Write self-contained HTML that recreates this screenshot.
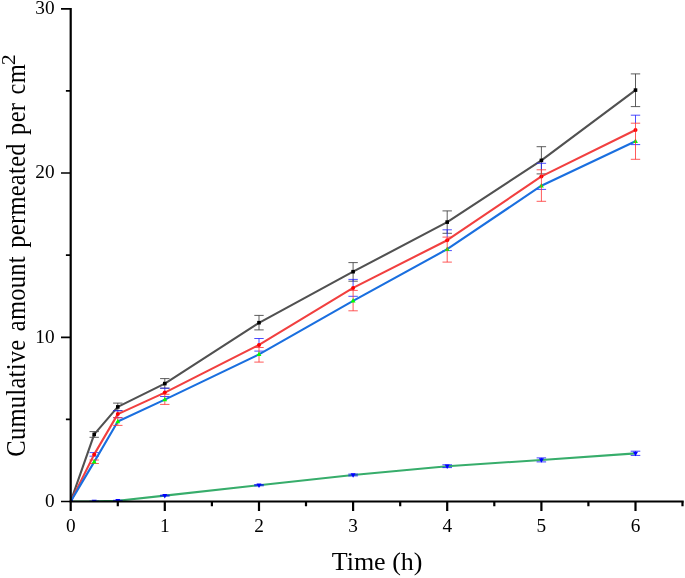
<!DOCTYPE html>
<html><head><meta charset="utf-8"><title>Cumulative amount permeated</title>
<style>html,body{margin:0;padding:0;background:#fff;overflow:hidden}svg{display:block}text{font-family:"Liberation Serif","Times New Roman",serif;fill:#000}</style>
</head><body>
<svg width="685" height="578" viewBox="0 0 685 578">
<rect width="685" height="578" fill="#fff"/>
<defs><clipPath id="c"><rect x="70.7" y="0" width="614.3" height="501.5"/></clipPath></defs><g clip-path="url(#c)">
<path fill="none" stroke="#404040" stroke-width="0.85" d="M94.2 431.6V437.3M89.5 431.6H98.9M89.5 437.3H98.9M117.8 403.1V410.7M113.1 403.1H122.5M113.1 410.7H122.5M164.8 378.6V388.2M160.1 378.6H169.5M160.1 388.2H169.5M259.0 315.4V329.9M254.3 315.4H263.7M254.3 329.9H263.7M353.1 262.6V281.2M348.4 262.6H357.8M348.4 281.2H357.8M447.2 210.9V233.3M442.5 210.9H451.9M442.5 233.3H451.9M541.4 146.7V173.9M536.6 146.7H546.1M536.6 173.9H546.1M635.5 73.9V106.6M630.8 73.9H640.2M630.8 106.6H640.2"/>
<polyline fill="none" stroke="#515151" stroke-width="2.1" stroke-linejoin="round" points="70.7,501.5 94.2,434.4 117.8,406.9 164.8,383.6 259.0,322.8 353.1,271.7 447.2,222.1 541.4,160.4 635.5,90.1"/>
<rect x="68.9" y="499.7" width="3.6" height="3.6" fill="#000"/><rect x="92.4" y="432.6" width="3.6" height="3.6" fill="#000"/><rect x="116.0" y="405.1" width="3.6" height="3.6" fill="#000"/><rect x="163.0" y="381.8" width="3.6" height="3.6" fill="#000"/><rect x="257.2" y="320.9" width="3.6" height="3.6" fill="#000"/><rect x="351.3" y="269.9" width="3.6" height="3.6" fill="#000"/><rect x="445.4" y="220.3" width="3.6" height="3.6" fill="#000"/><rect x="539.6" y="158.6" width="3.6" height="3.6" fill="#000"/><rect x="633.7" y="88.3" width="3.6" height="3.6" fill="#000"/>
<path fill="none" stroke="#2020ff" stroke-width="0.8" d="M94.2 452.6V456.2M89.5 452.6H98.9M89.5 456.2H98.9M117.8 410.7V417.7M113.1 410.7H122.5M113.1 417.7H122.5M164.8 388.2V394.3M160.1 388.2H169.5M160.1 396.5H169.5M259.0 338.5V347.5M254.3 338.5H263.7M254.3 351.1H263.7M353.1 279.4V290.4M348.4 279.4H357.8M348.4 296.3H357.8M447.2 229.8V237.1M442.5 229.8H451.9M442.5 250.6H451.9M541.4 163.3V169.8M536.6 163.3H546.1M536.6 189.4H546.1M635.5 115.2V123.2M630.8 115.2H640.2M630.8 144.6H640.2"/>
<polyline fill="none" stroke="#F14040" stroke-width="2.1" stroke-linejoin="round" points="70.7,501.5 94.2,454.4 117.8,414.1 164.8,392.6 259.0,344.9 353.1,287.9 447.2,240.2 541.4,176.4 635.5,130.0"/>
<circle cx="70.7" cy="501.5" r="2.0" fill="#f00"/><circle cx="94.2" cy="454.4" r="2.0" fill="#f00"/><circle cx="117.8" cy="414.1" r="2.0" fill="#f00"/><circle cx="164.8" cy="392.6" r="2.0" fill="#f00"/><circle cx="259.0" cy="344.9" r="2.0" fill="#f00"/><circle cx="353.1" cy="287.9" r="2.0" fill="#f00"/><circle cx="447.2" cy="240.2" r="2.0" fill="#f00"/><circle cx="541.4" cy="176.4" r="2.0" fill="#f00"/><circle cx="635.5" cy="130.0" r="2.0" fill="#f00"/>
<polyline fill="none" stroke="#1A6FDF" stroke-width="2.1" stroke-linejoin="round" points="70.7,501.5 94.2,461.9 117.8,421.5 164.8,399.6 259.0,354.4 353.1,300.8 447.2,249.2 541.4,185.7 635.5,141.2"/>
<path fill="none" stroke="#ff3030" stroke-width="0.8" d="M94.2 460.0V463.5M89.5 460.0H98.9M89.5 463.5H98.9M117.8 417.7V425.4M113.1 417.7H122.5M113.1 425.4H122.5M164.8 394.3V404.4M160.1 394.3H169.5M160.1 404.4H169.5M259.0 347.5V362.1M254.3 347.5H263.7M254.3 362.1H263.7M353.1 290.4V310.8M348.4 290.4H357.8M348.4 310.8H357.8"/>
<path d="M70.7 498.7L73.1 503.2L68.3 503.2Z" fill="#0f0"/><path d="M94.2 459.1L96.6 463.6L91.8 463.6Z" fill="#0f0"/><path d="M117.8 418.7L120.2 423.2L115.4 423.2Z" fill="#0f0"/><path d="M164.8 396.8L167.2 401.3L162.4 401.3Z" fill="#0f0"/><path d="M259.0 351.6L261.4 356.1L256.6 356.1Z" fill="#0f0"/><path d="M353.1 298.0L355.5 302.5L350.7 302.5Z" fill="#0f0"/><path d="M447.2 246.4L449.6 250.9L444.8 250.9Z" fill="#0f0"/><path d="M541.4 182.9L543.8 187.4L539.0 187.4Z" fill="#0f0"/><path d="M635.5 138.4L637.9 142.9L633.1 142.9Z" fill="#0f0"/>
<path fill="none" stroke="#ff3030" stroke-width="0.8" d="M447.2 237.1V262.1M442.5 237.1H451.9M442.5 262.1H451.9M541.4 169.8V201.3M536.6 169.8H546.1M536.6 201.3H546.1M635.5 123.2V159.3M630.8 123.2H640.2M630.8 159.3H640.2"/>
<polyline fill="none" stroke="#37AD6B" stroke-width="2.1" stroke-linejoin="round" points="70.7,501.5 94.2,501.4 117.8,500.7 164.8,495.6 259.0,485.2 353.1,475.0 447.2,466.2 541.4,460.0 635.5,453.4"/>
<path d="M70.7 504.3L73.2 499.8L68.2 499.8Z" fill="#00f"/><path d="M94.2 504.2L96.7 499.7L91.7 499.7Z" fill="#00f"/><path d="M117.8 503.5L120.3 499.0L115.3 499.0Z" fill="#00f"/><path d="M164.8 498.4L167.3 493.9L162.3 493.9Z" fill="#00f"/><path d="M259.0 488.0L261.5 483.5L256.5 483.5Z" fill="#00f"/><path d="M353.1 477.8L355.6 473.3L350.6 473.3Z" fill="#00f"/><path d="M447.2 469.0L449.7 464.5L444.7 464.5Z" fill="#00f"/><path d="M541.4 462.8L543.9 458.3L538.9 458.3Z" fill="#00f"/><path d="M635.5 456.2L638.0 451.7L633.0 451.7Z" fill="#00f"/>
<path fill="none" stroke="#0000ff" stroke-width="0.75" d="M94.2 501.1V501.7M89.4 501.1H99.0M89.4 501.7H99.0M117.8 500.3V501.1M113.0 500.3H122.6M113.0 501.1H122.6M164.8 495.2V496.0M160.0 495.2H169.6M160.0 496.0H169.6M259.0 484.6V485.8M254.2 484.6H263.8M254.2 485.8H263.8M353.1 474.1V475.9M348.3 474.1H357.9M348.3 475.9H357.9M447.2 464.8V467.6M442.4 464.8H452.0M442.4 467.6H452.0M541.4 457.9V461.9M536.6 457.9H546.1M536.6 461.9H546.1M635.5 451.2V455.4M630.7 451.2H640.3M630.7 455.4H640.3"/>
</g>
<path fill="none" stroke="#000" stroke-width="2.2" d="M70.7 7.9V502.4M70.7 501.5V511.0M117.8 501.5V506.2M164.8 501.5V511.0M211.9 501.5V506.2M259.0 501.5V511.0M306.0 501.5V506.2M353.1 501.5V511.0M400.2 501.5V506.2M447.2 501.5V511.0M494.3 501.5V506.2M541.4 501.5V511.0M588.4 501.5V506.2M635.5 501.5V511.0M682.5 501.5V506.2"/>
<path fill="none" stroke="#000" stroke-width="1.9" d="M69.6 501.5H683.7"/>
<path fill="none" stroke="#000" stroke-width="1.7" d="M61.0 501.5H70.7M65.9 419.4H70.7M61.0 337.3H70.7M65.9 255.2H70.7M61.0 173.0H70.7M65.9 90.9H70.7M61.0 8.8H70.7"/>
<g font-size="19.3"><text x="54.6" y="507.3" text-anchor="end">0</text><text x="54.6" y="342.9" text-anchor="end">10</text><text x="54.6" y="178.4" text-anchor="end">20</text><text x="54.6" y="13.7" text-anchor="end">30</text><text x="70.7" y="531.8" text-anchor="middle">0</text><text x="164.8" y="531.8" text-anchor="middle">1</text><text x="259.0" y="531.8" text-anchor="middle">2</text><text x="353.1" y="531.8" text-anchor="middle">3</text><text x="447.2" y="531.8" text-anchor="middle">4</text><text x="541.4" y="531.8" text-anchor="middle">5</text><text x="635.5" y="531.8" text-anchor="middle">6</text></g>
<text x="377.1" y="570.4" font-size="26" text-anchor="middle">Time (h)</text>
<text transform="translate(25.2 64.0) rotate(-90) scale(0.94 1.08)" font-size="26" letter-spacing="0.34" word-spacing="1.95" text-anchor="end">Cumulative amount permeated per cm</text>
<text transform="translate(15.2 65.3) rotate(-90) scale(1.19 1)" font-size="18.5">2</text>
</svg>
</body></html>
